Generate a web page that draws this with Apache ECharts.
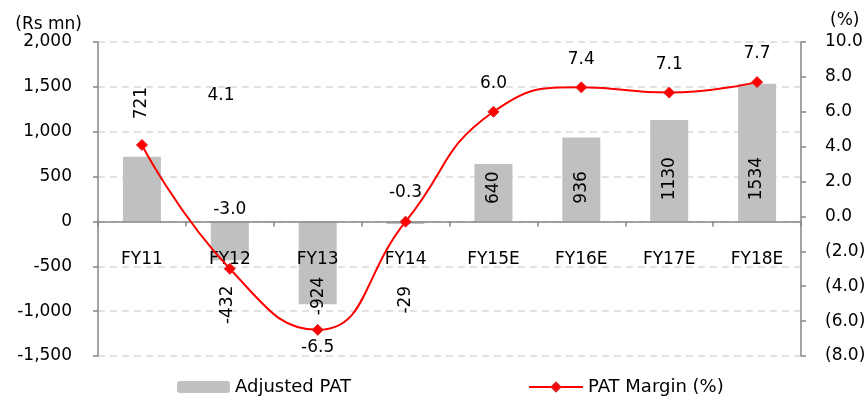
<!DOCTYPE html>
<html>
<head>
<meta charset="utf-8">
<script src="https://cdn.jsdelivr.net/npm/echarts@6/dist/echarts.min.js"></script>
<style>
  html, body { margin: 0; padding: 0; background: #fff; }
  #chart { width: 868px; height: 397px; }
</style>
</head>
<body>
<div id="chart"></div>
<script>
// Fiscal years on the category axis
const categories = ['FY11', 'FY12', 'FY13', 'FY14', 'FY15E', 'FY16E', 'FY17E', 'FY18E'];
// Adjusted PAT (Rs mn) – bars on the left axis
const adjustedPat = [721, -432, -924, -29, 640, 936, 1130, 1534];
// PAT margin (%) – line on the right axis
const patMargin = [4.1, -3.0, -6.5, -0.3, 6.0, 7.4, 7.1, 7.7];

// Axis ranges
const leftAxis = { min: -1500, max: 2000, step: 500 };
const rightAxis = { min: -8, max: 10, step: 2 };

// Per-point label nudges in screen pixels [dx, dy]
const barLabelShift = [[0, -86], [-2, 64], [1, 33], [0, 77], [0, -5], [0, 8], [0, 8], [0, 26]];
const lineLabelShift = [[79, -49], [0, -59], [0, 18], [0, -29], [0, -28], [0, -28], [0, -28], [0, -29]];

const FONT = 'DejaVu Sans';
const textColor = '#000';
const axisGray = '#868686';

const fmtThousands = v => v.toLocaleString('en-US');
const fmtPct = v => v < 0 ? '(' + Math.abs(v).toFixed(1) + ')' : v.toFixed(1);
// Bar labels are turned 90°, so their offset lives in the rotated frame
const rotatedOffset = ([dx, dy]) => [-dy, dx];

const chart = echarts.init(document.getElementById('chart'), null, { renderer: 'canvas' });

const legendText = { fontFamily: FONT, fontSize: 18, color: textColor };

chart.setOption({
  animation: false,
  backgroundColor: '#fff',
  textStyle: { fontFamily: FONT },
  grid: { left: 98, right: 67, top: 42, bottom: 41, containLabel: false, outerBoundsMode: 'none' },
  legend: [
    {
      data: ['Adjusted PAT'],
      left: 177, top: 378, padding: 0,
      itemWidth: 53, itemHeight: 12,
      textStyle: legendText
    },
    {
      data: ['PAT Margin (%)'],
      left: 528, top: 378, padding: 0,
      itemWidth: 54, itemHeight: 11,
      textStyle: legendText
    }
  ],
  xAxis: {
    type: 'category',
    data: categories,
    offset: 0,
    z: 2,
    axisLine: { onZero: false, lineStyle: { color: axisGray, width: 1.5 } },
    axisTick: { show: true, inside: false, length: 5, lineStyle: { color: axisGray, width: 1.5 } },
    axisLabel: { margin: 30, fontFamily: FONT, fontSize: 17, color: textColor },
    splitLine: { show: false }
  },
  yAxis: [
    {
      type: 'value',
      min: leftAxis.min, max: leftAxis.max, interval: leftAxis.step,
      name: '(Rs mn)',
      nameLocation: 'end',
      nameGap: 9,
      nameTextStyle: { fontFamily: FONT, fontSize: 17, color: textColor, align: 'right', padding: [0, 16, 0, 0] },
      axisLine: { show: true, lineStyle: { color: axisGray, width: 1.5 } },
      axisTick: { show: true, length: 5, lineStyle: { color: axisGray, width: 1.5 } },
      axisLabel: { margin: 26, fontFamily: FONT, fontSize: 17, color: textColor, formatter: fmtThousands },
      splitLine: { show: true, lineStyle: { color: '#D9D9D9', width: 1.5, type: [7, 5] } }
    },
    {
      type: 'value',
      position: 'right',
      min: rightAxis.min, max: rightAxis.max, interval: rightAxis.step,
      name: '(%)',
      nameLocation: 'end',
      nameGap: 13,
      nameTextStyle: { fontFamily: FONT, fontSize: 17, color: textColor, align: 'left', padding: [0, 0, 0, 29] },
      axisLine: { show: true, lineStyle: { color: axisGray, width: 1.5 } },
      axisTick: { show: true, length: 5, lineStyle: { color: axisGray, width: 1.5 } },
      axisLabel: { margin: 24, fontFamily: FONT, fontSize: 17, color: textColor, formatter: fmtPct },
      splitLine: { show: false }
    }
  ],
  series: [
    {
      name: 'Adjusted PAT',
      type: 'bar',
      yAxisIndex: 0,
      barWidth: 38,
      itemStyle: { color: '#C0C0C0' },
      data: adjustedPat.map((v, i) => ({
        value: v,
        label: {
          show: true,
          position: 'inside',
          rotate: 90,
          align: 'center',
          verticalAlign: 'middle',
          offset: rotatedOffset(barLabelShift[i]),
          fontFamily: FONT, fontSize: 17, color: textColor,
          formatter: String(v)
        }
      })),
      z: 1
    },
    {
      name: 'PAT Margin (%)',
      type: 'line',
      yAxisIndex: 1,
      smooth: 0.5,
      symbol: 'diamond',
      symbolSize: 11,
      lineStyle: { color: '#FF0000', width: 2 },
      itemStyle: { color: '#FF0000', borderColor: '#E02020', borderWidth: 1 },
      data: patMargin.map((v, i) => ({
        value: v,
        label: {
          show: true,
          position: 'inside',
          offset: lineLabelShift[i],
          fontFamily: FONT, fontSize: 17, color: textColor,
          formatter: v.toFixed(1)
        }
      })),
      z: 3
    }
  ]
});

// Lift the category axis up to the zero value of the left axis
const zeroY = chart.convertToPixel({ yAxisIndex: 0 }, 0);
const floorY = chart.convertToPixel({ yAxisIndex: 0 }, leftAxis.min);
chart.setOption({ xAxis: { offset: zeroY - floorY } });
</script>
</body>
</html>
